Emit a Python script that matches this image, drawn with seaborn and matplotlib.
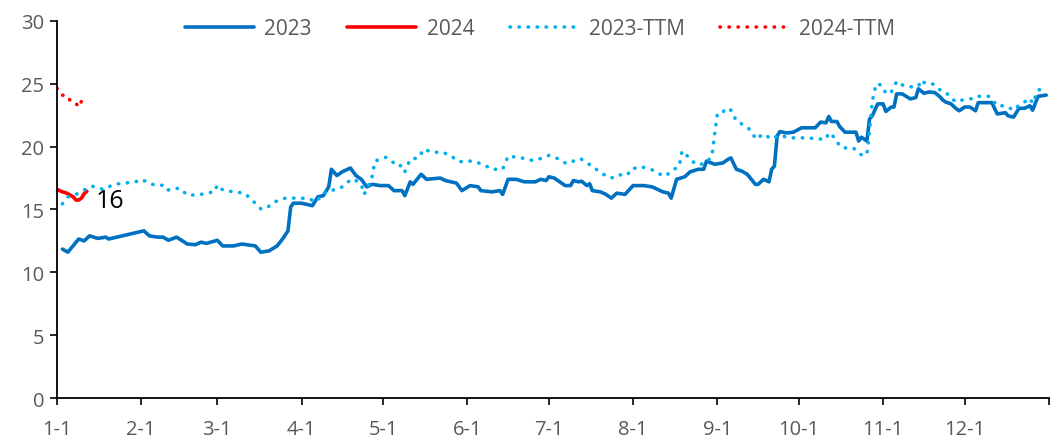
import matplotlib
matplotlib.use("Agg")
import matplotlib.pyplot as plt
import seaborn as sns
import pandas as pd
from matplotlib.lines import Line2D

# Valuation series (days counted from Jan 1)
days_2023 = [2, 4, 8, 10, 12, 15, 18, 19, 32, 34,
             37, 39, 41, 44, 48, 51, 53, 55, 59, 61,
             65, 68, 73, 75, 78, 81, 83, 85, 86, 87,
             90, 94, 96, 98, 100, 101, 103, 105, 108, 110,
             112, 114, 116, 119, 122, 124, 127, 128, 130, 131,
             134, 136, 141, 143, 147, 149, 152, 155, 156, 160,
             163, 164, 166, 169, 172, 176, 178, 180, 181, 183,
             187, 189, 190, 192, 193, 195, 196, 197, 200, 202,
             204, 206, 209, 212, 216, 219, 221, 223, 225, 226,
             228, 231, 233, 236, 238, 239, 242, 245, 247, 248,
             250, 252, 254, 257, 258, 260, 262, 263, 264, 265,
             266, 268, 269, 271, 274, 279, 281, 283, 284, 285,
             287, 288, 290, 292, 294, 295, 296, 298, 299, 300,
             302, 304, 305, 307, 308, 309, 311, 314, 316, 317,
             319, 321, 323, 325, 326, 327, 329, 331, 332, 334,
             336, 338, 339, 344, 346, 349, 350, 352, 354, 356,
             358, 359, 361, 364]
pe_2023 = [11.85, 11.6, 12.65, 12.5, 12.9, 12.7, 12.8, 12.65, 13.3, 12.9,
           12.8, 12.8, 12.55, 12.8, 12.25, 12.2, 12.4, 12.3, 12.55, 12.1,
           12.1, 12.25, 12.1, 11.6, 11.7, 12.1, 12.65, 13.3, 15.2, 15.5,
           15.5, 15.3, 16.0, 16.1, 16.8, 18.2, 17.7, 18.0, 18.3, 17.7,
           17.4, 16.8, 17.0, 16.9, 16.9, 16.5, 16.5, 16.1, 17.2, 17.0,
           17.8, 17.4, 17.5, 17.3, 17.1, 16.5, 16.9, 16.8, 16.5, 16.4,
           16.5, 16.2, 17.4, 17.4, 17.2, 17.2, 17.4, 17.3, 17.6, 17.5,
           16.9, 16.9, 17.3, 17.2, 17.25, 16.9, 17.05, 16.5, 16.4, 16.2,
           15.9, 16.3, 16.2, 16.9, 16.9, 16.8, 16.6, 16.4, 16.3, 15.9,
           17.4, 17.6, 18.0, 18.2, 18.2, 18.85, 18.6, 18.7, 19.0, 19.1,
           18.2, 18.05, 17.8, 17.0, 17.0, 17.4, 17.2, 18.2, 18.45, 20.85,
           21.2, 21.1, 21.1, 21.15, 21.5, 21.5, 21.95, 21.9, 22.4, 22.0,
           22.0, 21.6, 21.15, 21.15, 21.15, 20.45, 20.75, 20.45, 22.2, 22.45,
           23.4, 23.4, 22.8, 23.15, 23.15, 24.2, 24.2, 23.8, 23.9, 24.6,
           24.25, 24.35, 24.3, 23.95, 23.7, 23.55, 23.4, 23.0, 22.85, 23.15,
           23.15, 22.85, 23.5, 23.5, 22.6, 22.7, 22.45, 22.35, 23.05, 23.05,
           23.25, 22.9, 24.0, 24.1]

days_2024 = [0, 2, 3, 4, 6, 7, 8, 9, 10, 11]
pe_2024 = [16.6, 16.4, 16.35, 16.25, 16.0, 15.75, 15.75, 15.9, 16.25, 16.45]

days_ttm_2023 = [2, 4, 7, 10, 13, 17, 21, 29, 31, 35,
                 40, 41, 45, 48, 52, 55, 58, 59, 61, 65,
                 69, 72, 75, 77, 80, 84, 90, 93, 95, 97,
                 98, 99, 103, 106, 108, 110, 112, 113, 114, 116,
                 117, 121, 123, 125, 127, 128, 130, 133, 135, 138,
                 142, 145, 148, 152, 154, 158, 160, 164, 166, 171,
                 175, 178, 181, 185, 187, 189, 191, 193, 195, 197,
                 199, 201, 204, 206, 210, 211, 215, 219, 222, 224,
                 226, 229, 230, 232, 235, 237, 239, 241, 242, 243,
                 245, 246, 248, 250, 254, 256, 257, 260, 263, 265,
                 268, 271, 276, 281, 283, 284, 286, 287, 289, 293,
                 295, 296, 298, 299, 300, 301, 302, 304, 305, 307,
                 309, 310, 312, 315, 317, 318, 319, 321, 323, 325,
                 327, 329, 331, 333, 336, 338, 339, 343, 346, 349,
                 352, 354, 356, 358, 359, 361, 363]
pe_ttm_2023 = [15.45, 16.0, 16.2, 16.55, 16.85, 16.6, 17.0, 17.2, 17.4, 17.0,
               16.9, 16.55, 16.7, 16.15, 16.15, 16.3, 16.4, 16.95, 16.55, 16.4,
               16.3, 15.7, 15.05, 15.1, 15.6, 15.9, 15.9, 15.85, 15.6, 16.0,
               16.1, 16.45, 16.6, 16.9, 17.4, 17.3, 17.0, 16.2, 16.6, 17.65,
               18.85, 19.15, 18.9, 18.45, 18.5, 18.0, 19.0, 19.1, 19.8, 19.55,
               19.55, 19.25, 18.8, 18.85, 18.8, 18.45, 18.2, 18.2, 19.25, 19.1,
               18.9, 19.05, 19.3, 19.0, 18.7, 18.7, 19.0, 19.0, 18.7, 18.45,
               18.1, 17.8, 17.5, 17.75, 17.75, 18.2, 18.4, 18.15, 17.8, 17.65,
               18.05, 18.45, 19.65, 19.25, 18.6, 18.6, 18.75, 19.25, 21.0, 22.6,
               22.7, 23.05, 22.9, 22.05, 21.55, 21.1, 20.6, 21.0, 20.6, 20.85,
               20.8, 20.7, 20.7, 20.6, 20.6, 21.1, 20.75, 20.35, 19.9, 19.9,
               19.5, 19.35, 19.35, 21.25, 23.6, 24.6, 25.05, 24.75, 24.2, 24.35,
               25.2, 25.05, 24.8, 24.75, 24.8, 25.3, 25.1, 25.1, 24.9, 24.5,
               24.35, 23.85, 23.55, 23.7, 23.8, 23.85, 24.0, 24.0, 23.25, 23.25,
               22.9, 23.3, 23.55, 23.85, 23.45, 24.5, 24.6]

days_ttm_2024 = [0, 2, 4, 5, 7, 8, 9, 11]
pe_ttm_2024 = [24.65, 24.1, 24.0, 23.6, 23.45, 23.15, 23.6, 24.1]

month_starts = [0, 31, 59, 90, 120, 151, 181, 212, 243, 273, 304, 334, 365]
month_labels = ["1-1", "2-1", "3-1", "4-1", "5-1", "6-1", "7-1", "8-1",
                "9-1", "10-1", "11-1", "12-1", ""]
series_names = ["2023", "2024", "2023-TTM", "2024-TTM"]
y_ticks = [0, 5, 10, 15, 20, 25, 30]

sns.set_theme(style="white")
plt.rcParams["font.family"] = ["Open Sans", "DejaVu Sans"]

fig = plt.figure(figsize=(10.51, 4.39), dpi=100)
ax = fig.add_axes([0.0542, 0.0911, 0.9438, 0.8589])

BLUE = "#0070C0"
RED = "#FF0000"
CYAN = "#00B0F0"
DOT = (0, (0.1, 2.4))

specs = [
    (days_2023, pe_2023, BLUE, "-", 2.6),
    (days_2024, pe_2024, RED, "-", 2.6),
    (days_ttm_2023, pe_ttm_2023, CYAN, DOT, 2.6),
    (days_ttm_2024, pe_ttm_2024, RED, DOT, 2.6),
]
handles = []
for (d, v, c, ls, lw), name in zip(specs, series_names):
    df = pd.DataFrame({"day": d, "pe": v})
    n_before = len(ax.lines)
    sns.lineplot(data=df, x="day", y="pe", ax=ax, color=c, linewidth=lw,
                 linestyle=ls, sort=True, estimator=None)
    for ln in ax.lines[n_before:]:
        ln.set_dash_capstyle("round")
        ln.set_solid_capstyle("round")
    h = Line2D([], [], color=c, linewidth=lw, linestyle=ls,
               dash_capstyle="round", solid_capstyle="round", label=name)
    handles.append(h)

# value label at the end of the current-year line
ax.annotate(f"{round(pe_2024[-1])}", xy=(days_2024[-1], pe_2024[-1]),
            xytext=(6, -7), textcoords="offset points",
            ha="left", va="center", fontsize=18, color="black")

ax.set_xlim(0, 365)
ax.set_ylim(0, 30)
ax.set_xticks(month_starts)
ax.set_xticklabels(month_labels)
ax.set_yticks(y_ticks)
ax.set_xlabel("")
ax.set_ylabel("")
ax.tick_params(axis="both", which="both", direction="out", length=5,
               width=1.2, color="black", labelsize=14.5, labelcolor="#595959",
               bottom=True, left=True)
ax.tick_params(axis="x", pad=10)
ax.tick_params(axis="y", pad=4)
for side in ["top", "right"]:
    ax.spines[side].set_visible(False)
for side in ["left", "bottom"]:
    ax.spines[side].set_color("black")
    ax.spines[side].set_linewidth(1.3)
ax.grid(False)

leg = fig.legend(handles=handles, loc="center", bbox_to_anchor=(0.514, 0.932),
                 ncol=4, frameon=False, fontsize=15, handlelength=3.3,
                 handletextpad=0.5, columnspacing=1.7)
for t in leg.get_texts():
    t.set_color("#595959")

fig.savefig("out.png", dpi=100)
